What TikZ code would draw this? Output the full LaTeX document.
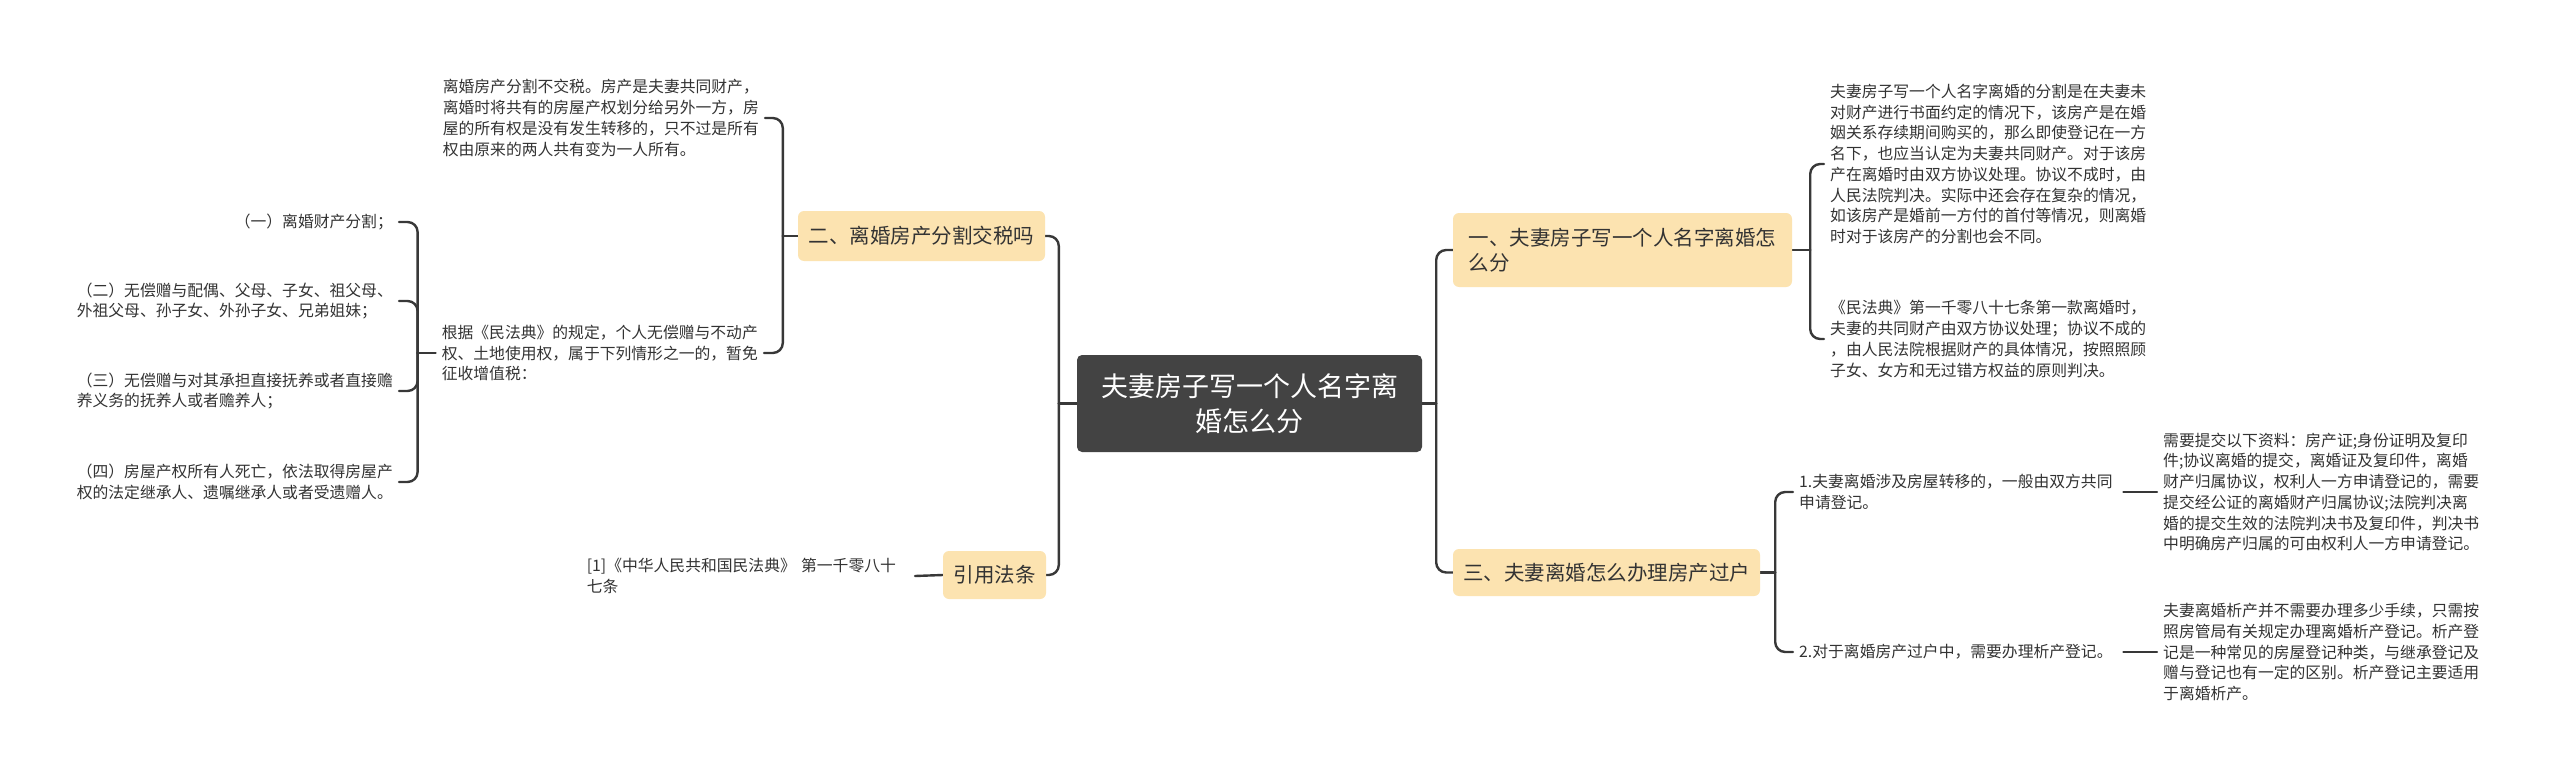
\documentclass[tikz,border=0pt]{standalone}
\usepackage{fontspec}
\setmainfont{Noto Sans CJK SC}
\definecolor{rootcol}{HTML}{434343}
\definecolor{topiccol}{HTML}{FCE3B0}
\definecolor{textcol}{HTML}{333333}
\definecolor{linecol}{HTML}{383838}
\pgfdeclarelayer{bg}
\pgfsetlayers{bg,main}
\begin{document}
\begin{tikzpicture}[x=1pt,y=-1pt,
  conn/.style={draw=linecol, line width=2.4pt, rounded corners=10pt, line cap=round},
  rootbox/.style={fill=rootcol, rounded corners=5pt, text=white, font=\fontsize{27}{35}\selectfont, align=center, inner sep=0pt},
  topic/.style={fill=topiccol, rounded corners=6pt, text=textcol, font=\fontsize{20.5}{25}\selectfont, align=left, inner sep=0pt},
  leaf/.style={text=textcol, font=\fontsize{15.8}{20.7}\selectfont, align=left, inner xsep=6pt, inner ysep=0pt},
]
\useasboundingbox (0,0) rectangle (2560,781);

% root
\node[rootbox, minimum width=345pt, minimum height=97pt] (root) at (1249.5,403.5) {夫妻房子写一个人名字离\\婚怎么分};

% main topics
\node[topic, minimum width=339pt, minimum height=74pt] (t1) at (1622.5,250) {一、夫妻房子写一个人名字离婚怎\\么分};
\node[topic, minimum width=307pt, minimum height=47pt] (t3) at (1606.5,572.5) {三、夫妻离婚怎么办理房产过户};
\node[topic, minimum width=247pt, minimum height=50pt] (t2) at (921.5,236) {二、离婚房产分割交税吗};
\node[topic, minimum width=103pt, minimum height=48pt] (t4) at (994.5,575) {引用法条};

% right leaves
\node[leaf, anchor=west] (a1) at (1824,164) {夫妻房子写一个人名字离婚的分割是在夫妻未\\对财产进行书面约定的情况下，该房产是在婚\\姻关系存续期间购买的，那么即使登记在一方\\名下，也应当认定为夫妻共同财产。对于该房\\产在离婚时由双方协议处理。协议不成时，由\\人民法院判决。实际中还会存在复杂的情况，\\如该房产是婚前一方付的首付等情况，则离婚\\时对于该房产的分割也会不同。};
\node[leaf, anchor=west] (a2) at (1824,339) {《民法典》第一千零八十七条第一款离婚时，\\夫妻的共同财产由双方协议处理；协议不成的\\，由人民法院根据财产的具体情况，按照照顾\\子女、女方和无过错方权益的原则判决。};
\node[leaf, anchor=west, text width=318pt] (c1) at (1793,492) {1.夫妻离婚涉及房屋转移的，一般由双方共同\\申请登记。};
\node[leaf, anchor=west, text width=318pt] (c2) at (1793,652) {2.对于离婚房产过户中，需要办理析产登记。};
\node[leaf, anchor=west] (d1) at (2157,492) {需要提交以下资料：房产证;身份证明及复印\\件;协议离婚的提交，离婚证及复印件，离婚\\财产归属协议，权利人一方申请登记的，需要\\提交经公证的离婚财产归属协议;法院判决离\\婚的提交生效的法院判决书及复印件，判决书\\中明确房产归属的可由权利人一方申请登记。};
\node[leaf, anchor=west] (d2) at (2157,652) {夫妻离婚析产并不需要办理多少手续，只需按\\照房管局有关规定办理离婚析产登记。析产登\\记是一种常见的房屋登记种类，与继承登记及\\赠与登记也有一定的区别。析产登记主要适用\\于离婚析产。};

% left leaves
\node[leaf, anchor=east] (l1) at (765,118) {离婚房产分割不交税。房产是夫妻共同财产，\\离婚时将共有的房屋产权划分给另外一方，房\\屋的所有权是没有发生转移的，只不过是所有\\权由原来的两人共有变为一人所有。};
\node[leaf, anchor=east] (l2) at (764,353) {根据《民法典》的规定，个人无偿赠与不动产\\权、土地使用权，属于下列情形之一的，暂免\\征收增值税：};
\node[leaf, anchor=east] (q1) at (399,222) {（一）离婚财产分割；};
\node[leaf, anchor=east] (q2) at (399,301) {（二）无偿赠与配偶、父母、子女、祖父母、\\外祖父母、孙子女、外孙子女、兄弟姐妹；};
\node[leaf, anchor=east] (q3) at (399,391) {（三）无偿赠与对其承担直接抚养或者直接赡\\养义务的抚养人或者赡养人；};
\node[leaf, anchor=east] (q4) at (399,482) {（四）房屋产权所有人死亡，依法取得房屋产\\权的法定继承人、遗嘱继承人或者受遗赠人。};
\node[leaf, anchor=east, text width=322pt] (r1) at (915,576) {[1]《中华人民共和国民法典》 第一千零八十\\七条};

% junctions
\coordinate (jR) at ([xshift=14pt]root.east);
\coordinate (jL) at ([xshift=-18pt]root.west);
\coordinate (j1) at ([xshift=18pt]t1.east);
\coordinate (j3) at ([xshift=15pt]t3.east);
\coordinate (j2) at ([xshift=-15pt]t2.west);
\coordinate (jq) at ([xshift=-18pt]l2.west);

\begin{pgfonlayer}{bg}
\fill[white] (0,0) rectangle (2560,781);
\draw[conn] (root.east) -- (jR);
\draw[conn] (jR) |- (t1.west);
\draw[conn] (jR) |- (t3.west);
\draw[conn] (root.west) -- (jL);
\draw[conn] (jL) |- (t2.east);
\draw[conn] (jL) |- (t4.east);
\draw[conn] (t1.east) -- (j1);
\draw[conn] (j1) |- (a1.west);
\draw[conn] (j1) |- (a2.west);
\draw[conn] (t3.east) -- (j3);
\draw[conn] (j3) |- (c1.west);
\draw[conn] (j3) |- (c2.west);
\draw[conn] (c1.east) -- (d1.west);
\draw[conn] (c2.east) -- (d2.west);
\draw[conn] (t2.west) -- (j2);
\draw[conn] (j2) |- (l1.east);
\draw[conn] (j2) |- (l2.east);
\draw[conn] (l2.west) -- (jq);
\draw[conn] (jq) |- (q1.east);
\draw[conn] (jq) |- (q2.east);
\draw[conn] (jq) |- (q3.east);
\draw[conn] (jq) |- (q4.east);
\draw[conn] (t4.west) -- (r1.east);
\end{pgfonlayer}
\end{tikzpicture}
\end{document}
